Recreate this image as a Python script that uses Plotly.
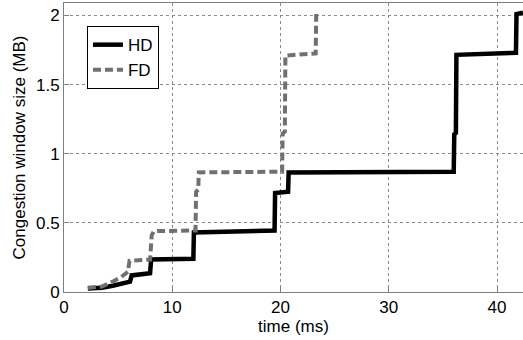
import plotly.graph_objects as go

# HD (half duplex) congestion window trace
hd_time = [2.2, 3.5, 4.5, 5.5, 6.1, 6.25, 7.95, 8.05, 11.95, 12.0, 19.45, 19.5, 20.7, 20.75, 36.0, 36.05, 36.2, 36.25, 41.75, 41.8, 42.4]
hd_cwnd = [0.025, 0.03, 0.045, 0.06, 0.075, 0.12, 0.135, 0.235, 0.24, 0.43, 0.445, 0.715, 0.725, 0.865, 0.87, 1.14, 1.15, 1.715, 1.73, 2.01, 2.02]

# FD (full duplex) congestion window trace
fd_time = [2.2, 3.5, 4.5, 5.3, 5.9, 6.05, 7.95, 8.1, 8.3, 12.15, 12.2, 12.4, 12.45, 20.15, 20.2, 20.4, 20.45, 23.25, 23.3]
fd_cwnd = [0.03, 0.04, 0.075, 0.11, 0.145, 0.225, 0.235, 0.41, 0.44, 0.445, 0.725, 0.74, 0.865, 0.87, 1.145, 1.16, 1.71, 1.725, 2.01]

x_ticks = [0, 10, 20, 30, 40]
y_ticks = [0, 0.5, 1, 1.5, 2]
y_tick_labels = ["0", "0.5", "1", "1.5", "2"]

font_family = "Liberation Sans, Arial, sans-serif"
axis_col = "#808080"
grid_col = "#8a8a8a"

fig = go.Figure()
fig.add_trace(go.Scatter(x=hd_time, y=hd_cwnd, mode="lines", name="HD",
                         line=dict(color="black", width=4.5)))
fig.add_trace(go.Scatter(x=fd_time, y=fd_cwnd, mode="lines", name="FD",
                         line=dict(color="#707070", width=4, dash="8px,4px")))

fig.update_layout(
    width=523, height=340,
    margin=dict(l=64, r=0, t=3, b=48, autoexpand=False),
    paper_bgcolor="white", plot_bgcolor="white",
    font=dict(family=font_family, size=17, color="black"),
    legend=dict(x=0.05, y=0.92, xanchor="left", yanchor="top",
                bgcolor="white", bordercolor="black", borderwidth=1,
                font=dict(size=17), tracegroupgap=0),
    showlegend=True,
)
fig.update_xaxes(
    range=[0, 42.4], tickvals=x_ticks, ticktext=[str(v) for v in x_ticks],
    showgrid=True, gridcolor=grid_col, griddash="dot", gridwidth=1,
    showline=True, linecolor=axis_col, linewidth=1, mirror=True,
    ticks="inside", ticklen=5, tickcolor=axis_col, zeroline=False,
    automargin=False,
    title=dict(text="time (ms)", standoff=0, font=dict(size=17)),
)
fig.update_yaxes(
    range=[0, 2.09], tickvals=y_ticks, ticktext=y_tick_labels,
    showgrid=True, gridcolor=grid_col, griddash="dot", gridwidth=1,
    showline=True, linecolor=axis_col, linewidth=1,
    ticks="inside", ticklen=5, tickcolor=axis_col, zeroline=False,
    automargin=False,
    title=dict(text="Congestion window size (MB)", standoff=6, font=dict(size=17)),
)

fig.write_html("out.html",
               config={"displayModeBar": False},
               post_script="document.body.style.margin='0px';document.body.style.overflow='hidden';")
